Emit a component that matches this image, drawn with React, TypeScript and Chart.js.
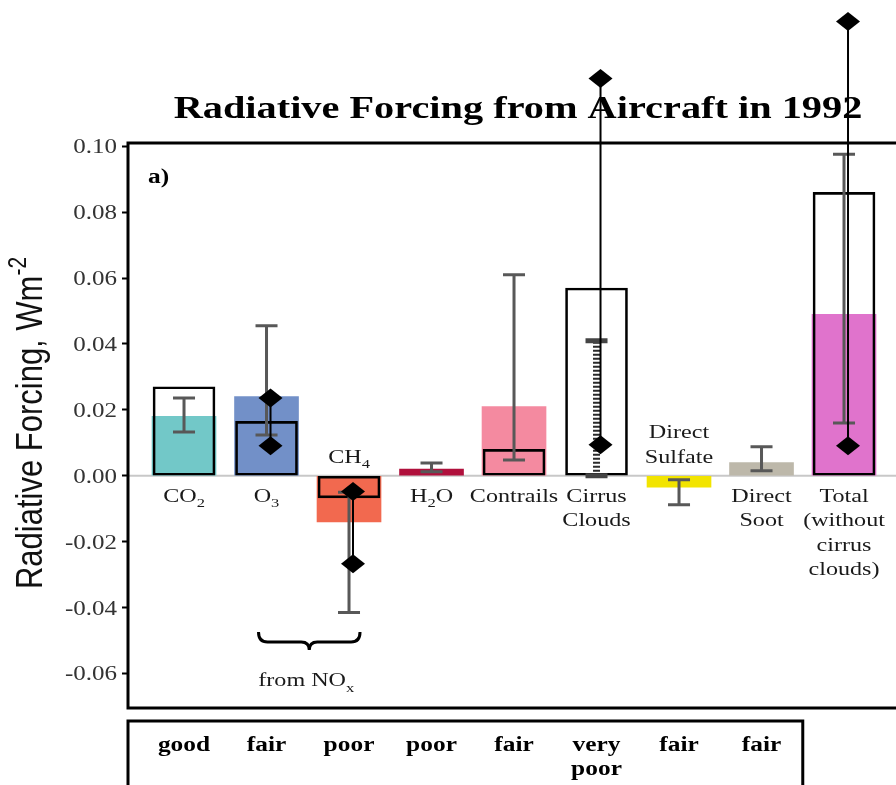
import React, { useEffect, useRef } from 'react';
import { Chart, registerables } from 'chart.js';

Chart.register(...registerables);

// ---- data ----
const categories = [
  'CO_2',
  'O_3',
  'CH_4',
  'H_2O',
  'Contrails',
  'Cirrus\nClouds',
  'Direct\nSulfate',
  'Direct\nSoot',
  'Total\n(without\ncirrus\nclouds)',
];
// coloured bars (best estimate)
const bestEstimate = [0.018, 0.024, -0.014, 0.002, 0.021, null, -0.0035, 0.004, 0.049];
const bestColors = ['#72c8c8', '#7290c8', '#f2694f', '#b0103c', '#f48aa0', '#ffffff', '#f2e400', '#bdb8aa', '#e073cc'];
// open boxes (earlier estimate)
const earlierEstimate = [0.027, 0.0165, -0.0067, null, 0.008, 0.057, null, null, 0.086];
// grey whiskers
const errLow = [0.0133, 0.0124, -0.0415, 0.0012, 0.0048, 0, -0.0088, 0.0015, 0.016];
const errHigh = [0.0236, 0.0455, -0.005, 0.0039, 0.061, 0.041, -0.0012, 0.0088, 0.0976];
// black diamond ranges
const rangeHigh = [null, 0.0236, -0.0048, null, null, 0.1206, null, null, 0.1379];
const rangeLow = [null, 0.0091, -0.0267, null, null, 0.0094, null, null, 0.0091];
// level of scientific understanding
const confidence = ['good', 'fair', 'poor', 'poor', 'fair', 'very\npoor', 'fair', 'fair'];
const yTicks = [-0.06, -0.04, -0.02, 0, 0.02, 0.04, 0.06, 0.08, 0.1];

// cirrus whisker is drawn as a dotted bar
const dottedWhisker = new Set([5]);

const W = 920;
const H = 785;
const SERIF = '"Liberation Serif", "Times New Roman", Times, serif';
const SANS = '"Liberation Sans", Arial, Helvetica, sans-serif';
const STRETCH = 1.27;

type Seg = { t: string; k: 'n' | 'sub' | 'sup' };

function parseRich(s: string): Seg[] {
  const out: Seg[] = [];
  const re = /_\{([^}]*)\}|_(.)|\^\{([^}]*)\}|\^(.)|([^_^]+)/g;
  let m: RegExpExecArray | null;
  while ((m = re.exec(s))) {
    if (m[1] !== undefined || m[2] !== undefined) out.push({ t: (m[1] ?? m[2]) as string, k: 'sub' });
    else if (m[3] !== undefined || m[4] !== undefined) out.push({ t: (m[3] ?? m[4]) as string, k: 'sup' });
    else out.push({ t: m[5], k: 'n' });
  }
  return out;
}

function drawRich(
  ctx: CanvasRenderingContext2D,
  s: string,
  x: number,
  y: number,
  size: number,
  family: string,
  weight: string,
  align: 'left' | 'center' | 'right',
  sx = STRETCH,
  sy = 1
) {
  const segs = parseRich(s);
  const fontFor = (k: Seg['k']) => `${weight} ${k === 'n' ? size : Math.round(size * 0.68)}px ${family}`;
  ctx.save();
  ctx.translate(x, y);
  ctx.scale(sx, sy);
  let w = 0;
  for (const g of segs) {
    ctx.font = fontFor(g.k);
    w += ctx.measureText(g.t).width;
  }
  let cx = align === 'center' ? -w / 2 : align === 'right' ? -w : 0;
  ctx.textAlign = 'left';
  ctx.textBaseline = 'alphabetic';
  for (const g of segs) {
    ctx.font = fontFor(g.k);
    const dy = g.k === 'sub' ? size * 0.3 : g.k === 'sup' ? -size * 0.42 : 0;
    ctx.fillText(g.t, cx, dy);
    cx += ctx.measureText(g.t).width;
  }
  ctx.restore();
}

function diamond(ctx: CanvasRenderingContext2D, px: number, py: number) {
  ctx.beginPath();
  ctx.moveTo(px, py - 9.5);
  ctx.lineTo(px + 12, py);
  ctx.lineTo(px, py + 9.5);
  ctx.lineTo(px - 12, py);
  ctx.closePath();
  ctx.fill();
}

const decor = {
  id: 'decor',
  beforeDatasetsDraw(chart: any) {
    const { ctx, chartArea: a, scales } = chart;
    const y = scales.y;
    ctx.save();
    ctx.fillStyle = '#000';
    drawRich(ctx, 'Radiative Forcing from Aircraft in 1992', 518, 118, 31.5, SERIF, 'bold', 'center', 1.28);

    const y0 = y.getPixelForValue(0);
    ctx.strokeStyle = '#c8c8c8';
    ctx.lineWidth = 2;
    ctx.beginPath();
    ctx.moveTo(a.left, y0);
    ctx.lineTo(a.right, y0);
    ctx.stroke();

    ctx.strokeStyle = '#000';
    ctx.lineWidth = 3;
    ctx.strokeRect(a.left, a.top, a.right - a.left + 20, a.bottom - a.top);
    ctx.restore();
  },
  afterDatasetsDraw(chart: any) {
    const { ctx, scales } = chart;
    const x = scales.x;
    const y = scales.y;
    ctx.save();
    // uncertainty whiskers
    categories.forEach((_, i) => {
      const lo = errLow[i];
      const hi = errHigh[i];
      if (lo == null || hi == null) return;
      const px = x.getPixelForValue(i);
      const pl = y.getPixelForValue(lo);
      const ph = y.getPixelForValue(hi);
      if (dottedWhisker.has(i)) {
        ctx.strokeStyle = '#2a2a2a';
        ctx.lineWidth = 7;
        ctx.setLineDash([2, 2]);
        ctx.beginPath();
        ctx.moveTo(px, pl);
        ctx.lineTo(px, ph);
        ctx.stroke();
        ctx.setLineDash([]);
        ctx.lineWidth = 5;
        ctx.strokeStyle = '#444';
        ctx.beginPath();
        ctx.moveTo(px - 11, ph);
        ctx.lineTo(px + 11, ph);
        ctx.moveTo(px - 11, pl);
        ctx.lineTo(px + 11, pl);
        ctx.stroke();
      } else {
        ctx.strokeStyle = '#585858';
        ctx.lineWidth = 3;
        ctx.beginPath();
        ctx.moveTo(px, pl);
        ctx.lineTo(px, ph);
        ctx.moveTo(px - 11, ph);
        ctx.lineTo(px + 11, ph);
        ctx.moveTo(px - 11, pl);
        ctx.lineTo(px + 11, pl);
        ctx.stroke();
      }
    });
    // earlier ranges with diamond ends
    ctx.strokeStyle = '#000';
    ctx.fillStyle = '#000';
    categories.forEach((_, i) => {
      const lo = rangeLow[i];
      const hi = rangeHigh[i];
      if (lo == null || hi == null) return;
      const px = x.getPixelForValue(i) + 4;
      const pl = y.getPixelForValue(lo);
      const ph = y.getPixelForValue(hi);
      ctx.lineWidth = 2;
      ctx.beginPath();
      ctx.moveTo(px, pl);
      ctx.lineTo(px, ph);
      ctx.stroke();
      diamond(ctx, px, ph);
      diamond(ctx, px, pl);
    });
    ctx.restore();
  },
  afterDraw(chart: any) {
    const { ctx, chartArea: a, scales } = chart;
    const x = scales.x;
    const y = scales.y;
    const y0 = y.getPixelForValue(0);
    ctx.save();

    // tick labels
    ctx.fillStyle = '#333';
    yTicks.forEach((v) => {
      drawRich(ctx, v.toFixed(2), 117, y.getPixelForValue(v) + 7, 20, SERIF, 'normal', 'right', 1.25);
    });

    // axis title
    ctx.fillStyle = '#111';
    ctx.save();
    ctx.translate(42, 423);
    ctx.rotate(-Math.PI / 2);
    drawRich(ctx, 'Radiative Forcing, Wm^{-2}', 0, 0, 31, SANS, 'normal', 'center', 1, 1.2);
    ctx.restore();

    // panel tag
    ctx.fillStyle = '#000';
    drawRich(ctx, 'a)', 148, 183, 20, SERIF, 'bold', 'left');

    // category labels
    ctx.fillStyle = '#1a1a1a';
    categories.forEach((c, i) => {
      const lines = c.split('\n');
      const v = bestEstimate[i] ?? earlierEstimate[i] ?? 0;
      const px = x.getPixelForValue(i);
      lines.forEach((ln, j) => {
        const by = v < 0 ? y0 - 13 - (lines.length - 1 - j) * 25 : y0 + 26 + j * 24.5;
        drawRich(ctx, ln, px, by, 19, SERIF, 'normal', 'center');
      });
    });

    // brace grouping the NOx-driven terms
    const bx0 = x.getPixelForValue(1) - 8;
    const bx1 = x.getPixelForValue(2) + 11;
    const bm = (bx0 + bx1) / 2;
    const by = y.getPixelForValue(-0.0505);
    ctx.strokeStyle = '#000';
    ctx.lineWidth = 3;
    ctx.beginPath();
    ctx.moveTo(bx0, by - 10);
    ctx.quadraticCurveTo(bx0, by, bx0 + 9, by);
    ctx.lineTo(bm - 8, by);
    ctx.quadraticCurveTo(bm, by, bm, by + 8);
    ctx.quadraticCurveTo(bm, by, bm + 8, by);
    ctx.lineTo(bx1 - 9, by);
    ctx.quadraticCurveTo(bx1, by, bx1, by - 10);
    ctx.stroke();
    drawRich(ctx, 'from NO_x', bm - 3, 686, 19, SERIF, 'normal', 'center');

    // understanding table
    const tRight = x.getPixelForValue(confidence.length - 0.5);
    ctx.lineWidth = 3;
    ctx.strokeRect(a.left, 721, tRight - a.left, 100);
    ctx.fillStyle = '#000';
    confidence.forEach((c, i) => {
      const px = x.getPixelForValue(i);
      c.split('\n').forEach((ln, j) => {
        drawRich(ctx, ln, px, 751 + j * 24, 20, SERIF, 'bold', 'center');
      });
    });
    ctx.restore();
  },
};

export default function App() {
  const ref = useRef<HTMLCanvasElement>(null);
  useEffect(() => {
    if (!ref.current) return;
    const chart = new Chart(ref.current, {
      type: 'bar',
      data: {
        datasets: [
          {
            label: 'Earlier estimate',
            data: earlierEstimate
              .map((v, i) => (v == null ? null : { x: i, y: v }))
              .filter((d) => d != null) as any,
            backgroundColor: 'rgba(0,0,0,0)',
            borderColor: '#000',
            borderWidth: 2,
            borderSkipped: false,
            barThickness: 62,
            grouped: false,
            order: 0,
          } as any,
          {
            label: 'Best estimate',
            data: bestEstimate
              .map((v, i) => (v == null ? null : { x: i, y: v }))
              .filter((d) => d != null) as any,
            backgroundColor: (c: any) => bestColors[c.raw ? c.raw.x : 0],
            borderWidth: 0,
            barThickness: 64,
            grouped: false,
            order: 1,
          } as any,
        ],
      },
      options: {
        responsive: false,
        animation: false,
        devicePixelRatio: 1,
        layout: { padding: { left: 0, top: 143, right: 0, bottom: 77 } },
        plugins: {
          legend: { display: false },
          tooltip: { enabled: false },
          title: { display: false },
        },
        scales: {
          x: { type: 'linear', min: -0.679, max: 8.921, offset: false, display: false },
          y: {
            min: -0.0705,
            max: 0.101,
            afterBuildTicks: (s: any) => {
              s.ticks = yTicks.map((v) => ({ value: v }));
            },
            afterFit: (s: any) => {
              s.width = 128;
            },
            ticks: { display: false },
            grid: {
              drawOnChartArea: false,
              drawTicks: true,
              tickLength: 6,
              tickWidth: 2,
              tickColor: '#000',
            },
            border: { display: false },
          },
        },
      } as any,
      plugins: [decor],
    });
    return () => chart.destroy();
  }, []);

  return (
    <div
      style={{
        position: 'fixed',
        left: 0,
        top: 0,
        width: 896,
        height: 785,
        overflow: 'hidden',
        background: '#fff',
      }}
    >
      <canvas ref={ref} width={W} height={H} style={{ display: 'block', width: W, height: H }} />
    </div>
  );
}
